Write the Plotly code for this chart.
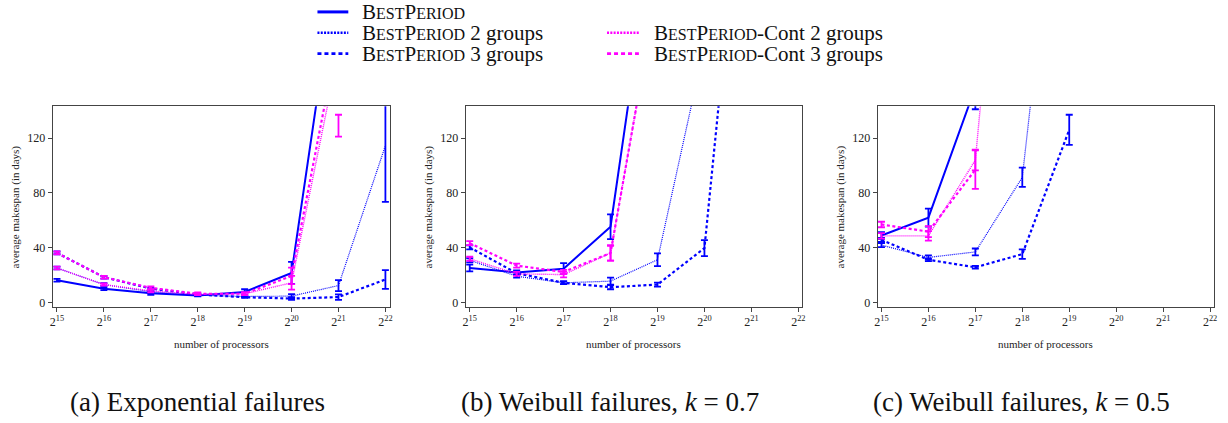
import plotly.graph_objects as go

# ---------------- data ----------------
exponents = [15, 16, 17, 18, 19, 20, 21, 22]
x_tick_text = [f"2<sup>{e}</sup>" for e in exponents]
y_ticks = [0, 40, 80, 120]

captions = ["(a) Exponential failures",
            "(b) Weibull failures, <i>k</i> = 0.7",
            "(c) Weibull failures, <i>k</i> = 0.5"]

# (a) Exponential failures
a_bp = [16.4, 10.1, 6.8, 5.2, 7.8, 21.7, 255, None]
a_bp_err = [1, 1, 1, 0.5, 2, 8, 0, None]
a_bp2 = [25.3, 13.2, 8.0, 5.5, 4.5, 4.8, 12.5, 114.5]
a_bp2_err = [1, 1, 0.5, 0.5, 0.5, 1.5, 4, 41]
a_bp3 = [36.3, 18.6, 10.3, 6.0, 4.0, 3.0, 4.1, 16.9]
a_bp3_err = [1, 1, 0.5, 0.5, 0.5, 1, 2, 6.8]
a_bpc2 = [25.3, 13.2, 8.6, 6.0, 6.5, 14.5, 183, None]
a_bpc2_err = [1, 0.8, 1, 0.5, 1, 5, 0, None]
a_bpc3 = [36.3, 18.6, 10.8, 6.5, 6.5, 19.5, 196, None]
a_bpc3_err = [1, 1, 1, 1, 1, 6, 0, None]
a_extra_x = [21]
a_extra_y = [129]
a_extra_err = [8]

# (b) Weibull k = 0.7
b_bp = [25.3, 22.0, 24.8, 55.4, 292, None, None, None]
b_bp_err = [2.5, 1.5, 4, 9, 0, None, None, None]
b_bp2 = [30.9, 19.3, 14.5, 15.7, 31.3, 187, None, None]
b_bp2_err = [1.5, 1, 1, 2.5, 4.7, 0, None, None]
b_bp3 = [40.3, 21.5, 14.5, 11.3, 13.2, 39.8, 384, None]
b_bp3_err = [1.5, 1, 1, 1.5, 1.5, 5.8, 0, None]
b_bpc2 = [32.0, 21.0, 20.5, 36.2, 230, None, None, None]
b_bpc2_err = [1.5, 1.5, 2, 5.5, 0, None, None, None]
b_bpc3 = [43.4, 27.0, 22.4, 36.2, 230, None, None, None]
b_bpc3_err = [1.5, 1.5, 1.5, 5.5, 0, None, None, None]

# (c) Weibull k = 0.5
c_bp = [49.0, 62.0, 157, None, None, None, None, None]
c_bp_err = [2.5, 6.5, 16, None, None, None, None, None]
c_bp2 = [42.0, 33.0, 37.0, 91.4, 395, None, None, None]
c_bp2_err = [1.5, 1.5, 2.5, 7, 0, None, None, None]
c_bp3 = [45.8, 31.3, 25.8, 35.4, 126, None, None, None]
c_bp3_err = [1.5, 1, 1, 3.5, 11, None, None, None]
c_bpc2 = [48.7, 48.7, 104, 470, None, None, None, None]
c_bpc2_err = [2, 3.5, 7.5, 0, None, None, None, None]
c_bpc3 = [57.0, 51.8, 97, None, None, None, None, None]
c_bpc3_err = [2, 4, 14, None, None, None, None, None]

# ---------------- styles ----------------
BLUE = "#0000FF"
MAG = "#FF00FF"
FONT = "Liberation Serif"
LEG_SIZE = 21
SC = 16  # small caps size


def sc_name(suffix=""):
    return (f"B<span style='font-size:{SC}px'>EST</span>P"
            f"<span style='font-size:{SC}px'>ERIOD</span>{suffix}")


series_names = [sc_name(), sc_name(" 2 groups"), sc_name(" 3 groups"),
                sc_name("-Cont 2 groups"), sc_name("-Cont 3 groups")]
styles = [
    dict(color=BLUE, width=2.0, dash="solid"),
    dict(color=BLUE, width=1.2, dash="1px,1px"),
    dict(color=BLUE, width=2.2, dash="3px,2.5px"),
    dict(color=MAG, width=1.4, dash="1px,1px"),
    dict(color=MAG, width=2.2, dash="3px,2.5px"),
]

panels = [
    ([a_bp, a_bp2, a_bp3, a_bpc2, a_bpc3],
     [a_bp_err, a_bp2_err, a_bp3_err, a_bpc2_err, a_bpc3_err]),
    ([b_bp, b_bp2, b_bp3, b_bpc2, b_bpc3],
     [b_bp_err, b_bp2_err, b_bp3_err, b_bpc2_err, b_bpc3_err]),
    ([c_bp, c_bp2, c_bp3, c_bpc2, c_bpc3],
     [c_bp_err, c_bp2_err, c_bp3_err, c_bpc2_err, c_bpc3_err]),
]

W, H = 1228, 423
boxes = [(50, 389), (465, 803), (879, 1217)]
top_px, bot_px = 107, 309
x_ranges = [[14.91, 22.1], [14.915, 22.08], [14.92, 22.085]]
y_range = [-3, 143.2]

fig = go.Figure()

for p, (vals, errs) in enumerate(panels):
    ax = "" if p == 0 else str(p + 1)
    for s in range(5):
        fig.add_trace(go.Scatter(
            x=exponents, y=vals[s], mode="lines", name=series_names[s],
            line=styles[s], showlegend=False,
            error_y=dict(type="data", array=errs[s], visible=True,
                         color=styles[s]["color"], thickness=1.8, width=3.5),
            xaxis="x" + ax, yaxis="y" + ax, hoverinfo="skip"))
    if p == 0:
        fig.add_trace(go.Scatter(
            x=a_extra_x, y=a_extra_y, mode="markers",
            marker=dict(size=1, color=MAG, opacity=0), showlegend=False,
            error_y=dict(type="data", array=a_extra_err, visible=True,
                         color=MAG, thickness=1.8, width=3.5),
            xaxis="x", yaxis="y", hoverinfo="skip"))

axis_common = dict(showline=True, mirror=True, linecolor="#444", linewidth=1.2,
                   ticks="outside", ticklen=4, tickcolor="#444", tickwidth=1,
                   showgrid=False, zeroline=False,
                   tickfont=dict(family=FONT, size=12, color="#222"))

layout = dict(width=W, height=H, margin=dict(l=0, r=0, t=0, b=0),
              paper_bgcolor="white", plot_bgcolor="white", showlegend=False,
              font=dict(family=FONT, color="#111"))
annotations = []
shapes = []


def px_x(v):
    return v / W


def px_y(v):
    return 1 - v / H


for p, (l, r) in enumerate(boxes):
    ax = "" if p == 0 else str(p + 1)
    layout["xaxis" + ax] = dict(axis_common, domain=[px_x(l), px_x(r)], range=x_ranges[p],
                                tickvals=exponents, ticktext=x_tick_text,
                                anchor="y" + ax)
    layout["yaxis" + ax] = dict(axis_common, domain=[px_y(bot_px), px_y(top_px)],
                                range=y_range, tickvals=y_ticks,
                                anchor="x" + ax)
    cx = (l + r) / 2
    annotations.append(dict(text="number of processors", x=px_x(cx), y=px_y(346),
                            xref="paper", yref="paper", showarrow=False,
                            xanchor="center", yanchor="middle",
                            font=dict(family=FONT, size=11, color="#222")))
    annotations.append(dict(text="average makespan (in days)", x=px_x(l - 37),
                            y=px_y(208), xref="paper", yref="paper",
                            xanchor="center", yanchor="middle",
                            showarrow=False, textangle=-90,
                            font=dict(family=FONT, size=11, color="#222")))
    annotations.append(dict(text=captions[p], x=px_x(cx - 24), y=px_y(405),
                            xref="paper", yref="paper", showarrow=False,
                            xanchor="center", yanchor="middle",
                            font=dict(family=FONT, size=27, color="#111")))

# legend (manual, two columns)
legend_rows = [(0, 12), (1, 33), (2, 54), (3, 33), (4, 54)]
for idx, ypx in legend_rows:
    col2 = idx >= 3
    x0, x1 = (607, 639) if col2 else (316, 347)
    tx = 652 if col2 else 359
    st = styles[idx]
    lw = 3 if st["dash"] == "solid" else 2.6
    dash = {"solid": "solid", "1px,1px": "2px,1.3px", "3px,2.5px": "4px,3px"}[st["dash"]]
    shapes.append(dict(type="line", xref="paper", yref="paper",
                       x0=px_x(x0), x1=px_x(x1), y0=px_y(ypx), y1=px_y(ypx),
                       line=dict(color=st["color"], width=lw, dash=dash)))
    annotations.append(dict(text=series_names[idx], x=px_x(tx), y=px_y(ypx),
                            xref="paper", yref="paper", xanchor="left",
                            yanchor="middle", showarrow=False,
                            font=dict(family=FONT, size=LEG_SIZE, color="#111")))

layout["annotations"] = annotations
layout["shapes"] = shapes
fig.update_layout(**layout)
fig.write_html("out.html", config={"displayModeBar": False},
               post_script="document.body.style.margin='0';"
                           "document.body.style.overflow='hidden';")
